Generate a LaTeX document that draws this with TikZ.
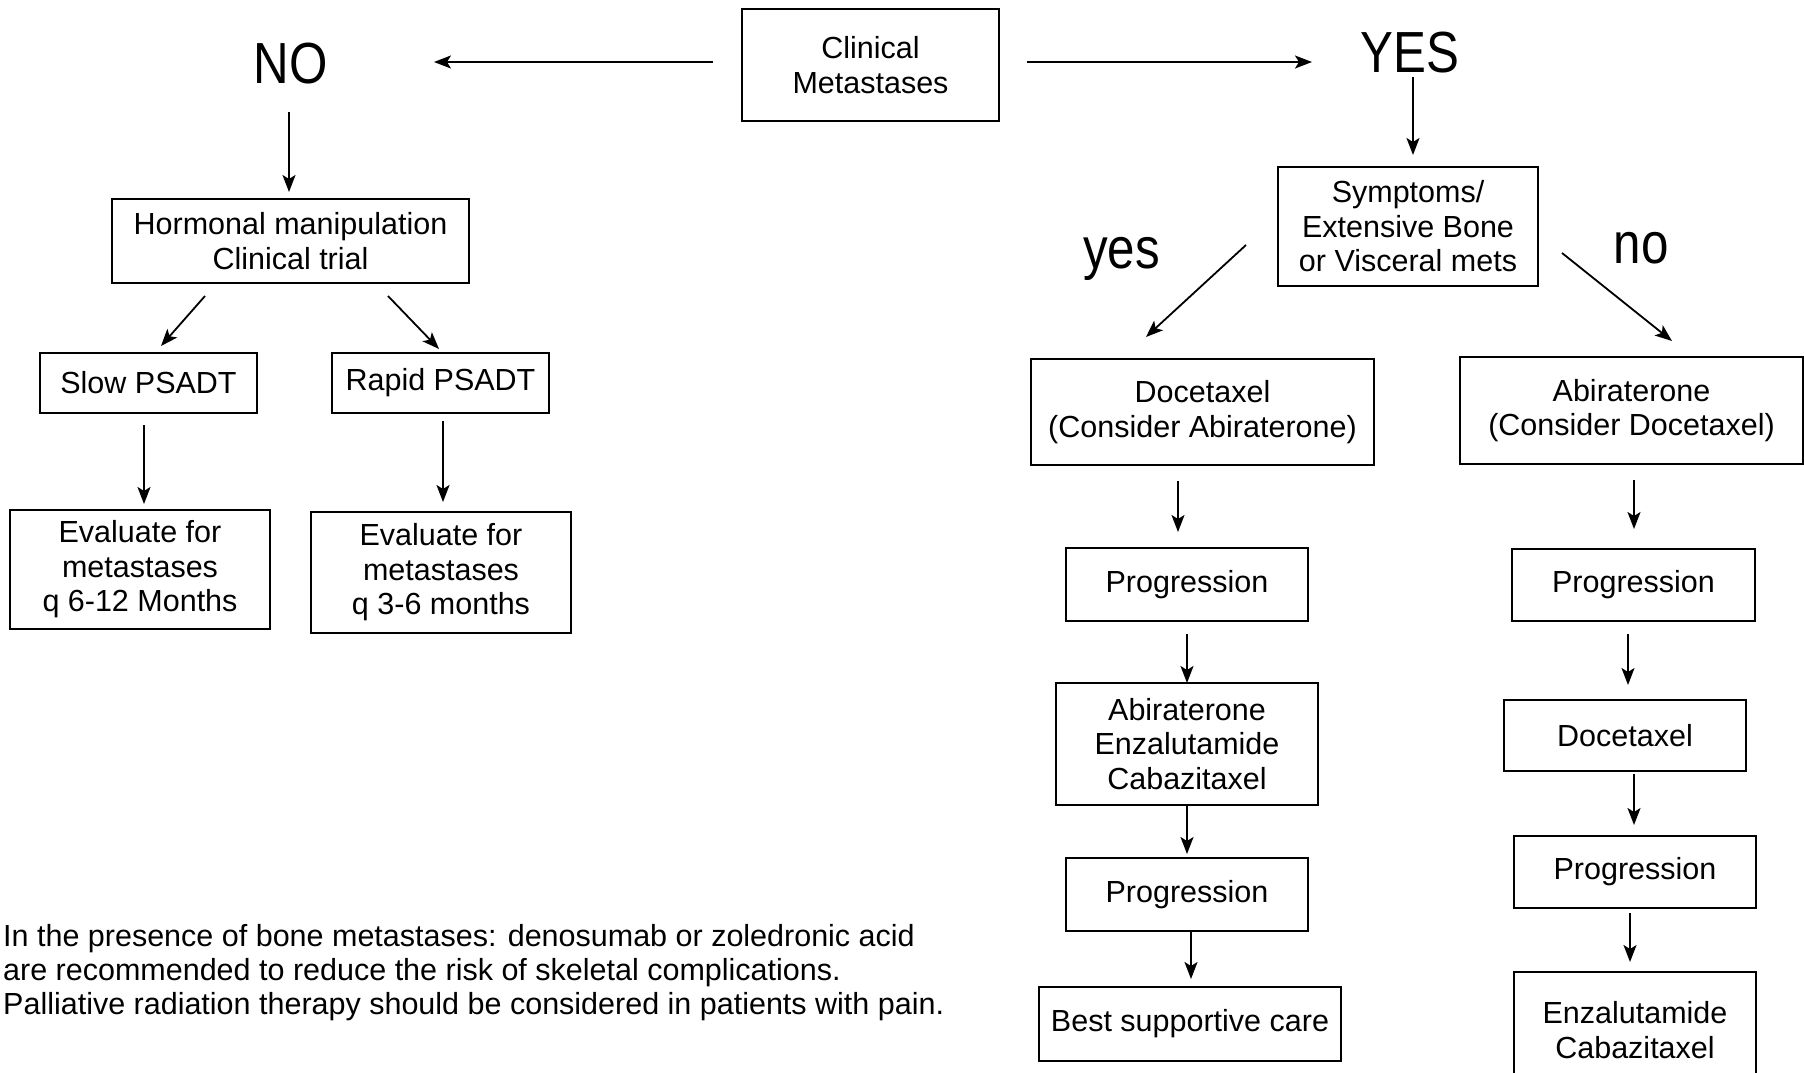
\documentclass[tikz,border=0pt]{standalone}
\usepackage{fontspec}
\setmainfont{Liberation Sans}
\newfontfamily\lblfont{Liberation Sans}[FakeStretch=0.85]
\usetikzlibrary{arrows.meta}
\begin{document}
\begin{tikzpicture}[x=1pt,y=-1pt,
  box/.style={draw, line width=2pt, rectangle, inner sep=0pt, outer sep=0pt, align=center,
    font=\fontsize{30.5}{34.5}\selectfont},
  lbl/.style={inner sep=0pt, outer sep=0pt, anchor=base, font=\lblfont\fontsize{58}{60}\selectfont},
  arr/.style={line width=1.8pt, -{Stealth[length=17pt,width=13pt,inset=4pt]}},
  note/.style={inner sep=0pt, align=left, anchor=north west, font=\fontsize{30.5}{34}\selectfont}]
\useasboundingbox (0,0) rectangle (1804,1073);
\clip (0,0) rectangle (1804,1073);

% boxes
\node[box, minimum width=257pt, minimum height=112pt] (cm) at (870.5,65) {Clinical\\Metastases};
\node[box, minimum width=357pt, minimum height=84pt] (hm) at (290.5,241) {Hormonal manipulation\\Clinical trial};
\node[box, minimum width=217pt, minimum height=60pt] (slow) at (148.5,383) {Slow PSADT};
\node[box, minimum width=217pt, minimum height=60pt] (rapid) at (440.5,383) {Rapid PSADT};
\node[box, minimum width=260pt, minimum height=119pt] (evl) at (140,569.5) {Evaluate for\\metastases\\q 6-12 Months};
\node[box, minimum width=260pt, minimum height=121pt] (evr) at (441,572.5) {Evaluate for\\metastases\\q 3-6 months};
\node[box, minimum width=260pt, minimum height=119pt] (sym) at (1408,226.5) {Symptoms/\\Extensive Bone\\or Visceral mets};
\node[box, minimum width=343pt, minimum height=106pt] (docA) at (1202.5,412) {Docetaxel\\(Consider Abiraterone)};
\node[box, minimum width=343pt, minimum height=107pt] (abiD) at (1631.5,410.5) {Abiraterone\\(Consider Docetaxel)};
\node[box, minimum width=242pt, minimum height=73pt] (p1) at (1187,584.5) {Progression};
\node[box, minimum width=262pt, minimum height=122pt] (aec) at (1187,744) {Abiraterone\\Enzalutamide\\Cabazitaxel};
\node[box, minimum width=242pt, minimum height=73pt] (p2) at (1187,894.5) {Progression};
\node[box, minimum width=302pt, minimum height=74pt] (bsc) at (1190,1024) {Best supportive care};
\node[box, minimum width=243pt, minimum height=72pt] (pR1) at (1633.5,585) {Progression};
\node[box, minimum width=242pt, minimum height=71pt] (docR) at (1625,735.5) {Docetaxel};
\node[box, minimum width=242pt, minimum height=72pt] (pR2) at (1635,872) {Progression};
\node[box, minimum width=242pt, minimum height=116pt] (ec) at (1635,1030) {Enzalutamide\\Cabazitaxel};

% labels
\node[lbl] (no) at (290.5,83) {NO};
\node[lbl] (yes) at (1410,72) {YES};
\node[lbl] (y2) at (1121.5,268) {yes};
\node[lbl] (n2) at (1641,263) {no};

% note
\node[note] (note) at (3,924) {In the presence of bone metastases: denosumab or zoledronic acid\\are recommended to reduce the risk of skeletal complications.\\Palliative radiation therapy should be considered in patients with pain.};

% arrows
\draw[arr] ([xshift=-29pt,yshift=3pt]cm.west) -- ([xshift=106.5pt,yshift=3pt]cm.west -| no.east);
\draw[arr] ([xshift=28pt,yshift=3pt]cm.east) -- ([xshift=-48.7pt,yshift=3pt]cm.east -| yes.west);
\draw[arr] ([xshift=-1.5pt,yshift=-28.3pt]no.south) -- ([xshift=-1.5pt,yshift=7pt]hm.north);
\draw[arr] ([xshift=3pt,yshift=-4.3pt]yes.south) -- ([xshift=5pt,yshift=12pt]sym.north);
\draw[arr] ([xshift=-85.5pt,yshift=-13pt]hm.south) -- ([xshift=12.5pt,yshift=7pt]slow.north);
\draw[arr] ([xshift=97.5pt,yshift=-13pt]hm.south) -- ([xshift=-1.5pt,yshift=4pt]rapid.north);
\draw[arr] ([xshift=-4.5pt,yshift=-12pt]slow.south) -- ([xshift=4pt,yshift=6pt]evl.north);
\draw[arr] ([xshift=2.5pt,yshift=-8pt]rapid.south) -- ([xshift=2pt,yshift=10pt]evr.north);
\draw[arr] ([xshift=-32pt,yshift=-18.5pt]sym.west) -- ([xshift=-56.5pt,yshift=22pt]docA.north);
\draw[arr] ([xshift=24pt,yshift=-26.5pt]sym.east) -- ([xshift=40.5pt,yshift=16pt]abiD.north);
\draw[arr] ([xshift=-24.5pt,yshift=-16pt]docA.south) -- ([xshift=-9pt,yshift=16pt]p1.north);
\draw[arr] ([yshift=-13pt]p1.south) -- (aec.north);
\draw[arr] (aec.south) -- ([yshift=4pt]p2.north);
\draw[arr] ([xshift=4pt]p2.south) -- ([xshift=1pt,yshift=8pt]bsc.north);
\draw[arr] ([xshift=2.5pt,yshift=-16pt]abiD.south) -- ([xshift=0.5pt,yshift=20pt]pR1.north);
\draw[arr] ([xshift=-5.5pt,yshift=-13pt]pR1.south) -- ([xshift=3pt,yshift=15pt]docR.north);
\draw[arr] ([xshift=9pt,yshift=-3pt]docR.south) -- ([xshift=-1pt,yshift=11pt]pR2.north);
\draw[arr] ([xshift=-5pt,yshift=-5pt]pR2.south) -- ([xshift=-5pt,yshift=10pt]ec.north);
\end{tikzpicture}
\end{document}
